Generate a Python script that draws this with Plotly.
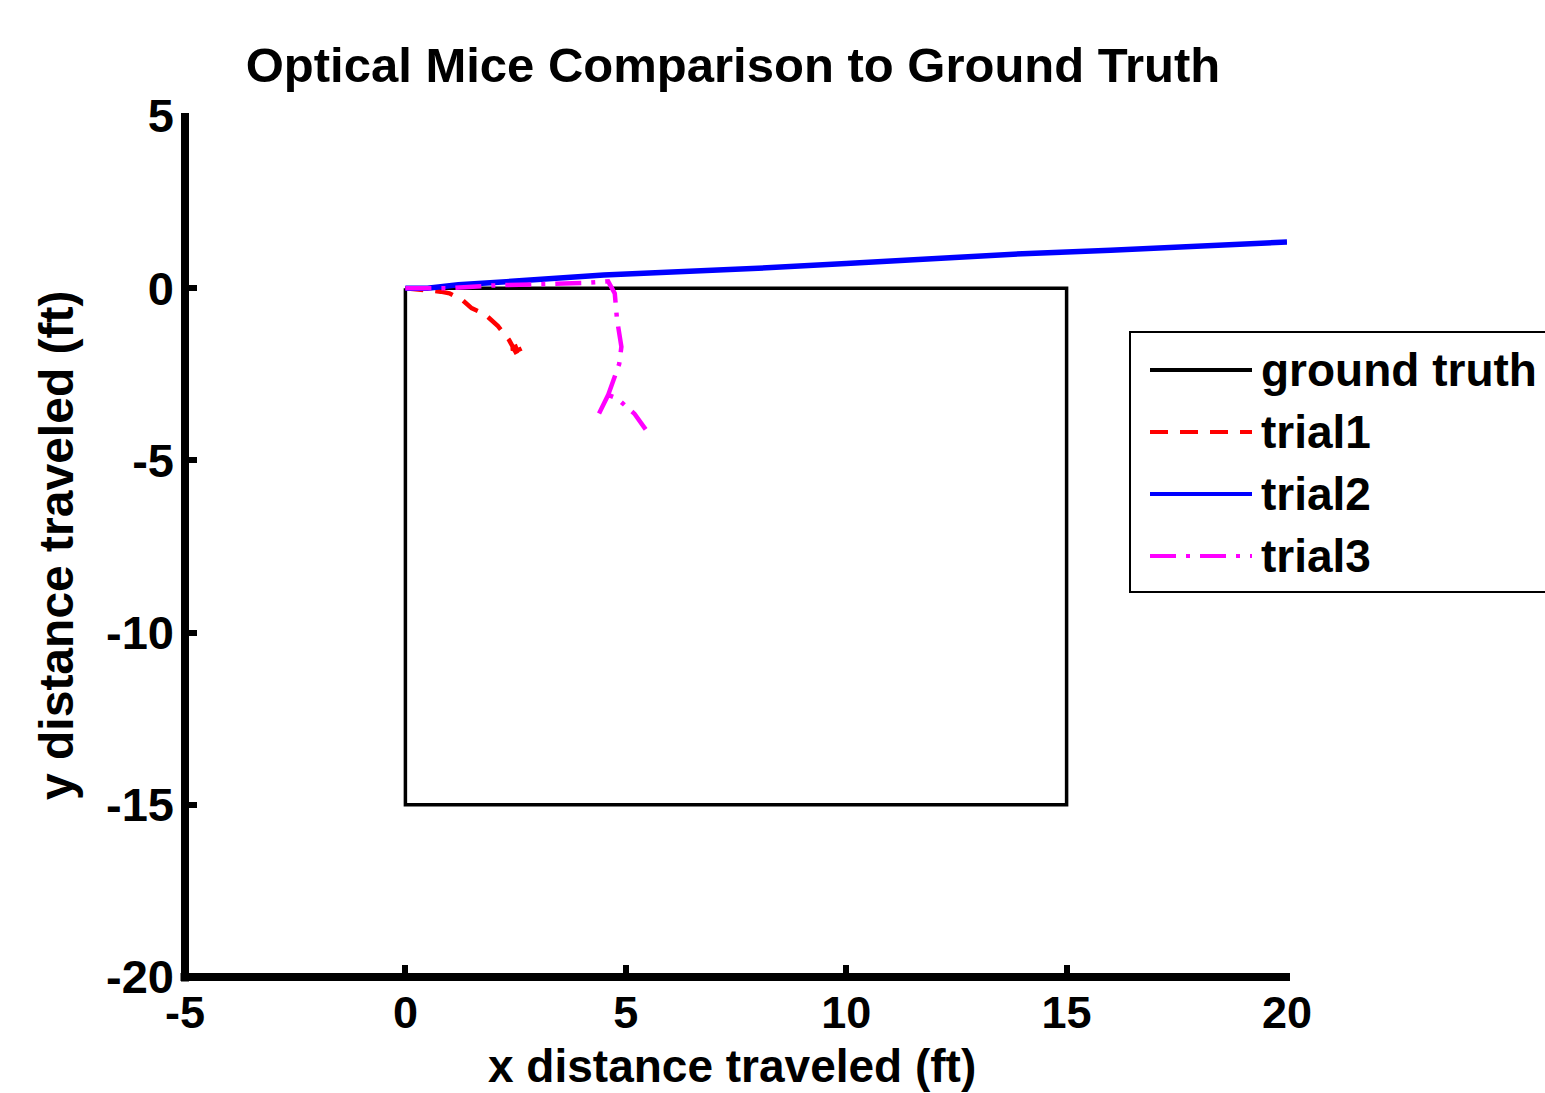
import plotly.graph_objects as go

# ---- data ----
gt_x = [0, 15, 15, 0, 0]
gt_y = [0, 0, -15, -15, 0]

trial1_x = [0, 0.5, 0.8, 1.0, 1.3, 1.5, 1.8, 2.1, 2.35, 2.5, 2.72, 2.55, 2.4, 2.65]
trial1_y = [0, -0.05, -0.1, -0.15, -0.35, -0.58, -0.75, -1.1, -1.5, -1.85, -1.7, -1.8, -1.75, -1.62]

trial2_x = [0, 0.5, 1.2, 2.0, 3.0, 4.5, 6.0, 8.0, 10.0, 12.0, 14.0, 16.0, 18.0, 20.0]
trial2_y = [0, 0.0, 0.1, 0.15, 0.25, 0.38, 0.45, 0.58, 0.72, 0.86, 1.0, 1.1, 1.22, 1.34]

trial3_x = [0, 1.0, 2.0, 3.0, 4.0, 4.6, 4.75, 4.8, 4.9, 4.85, 4.72, 4.6, 4.35, 4.6, 4.8, 5.2, 5.45]
trial3_y = [0, 0.0, 0.08, 0.1, 0.15, 0.2, -0.15, -0.9, -1.7, -2.2, -2.65, -3.1, -3.75, -3.1, -3.2, -3.65, -4.1]

x_ticks = [-5, 0, 5, 10, 15, 20]
y_ticks = [-20, -15, -10, -5, 0, 5]

series_names = ["ground truth", "trial1", "trial2", "trial3"]
series_colors = ["#000000", "#FF0000", "#0000FF", "#FF00FF"]
series_dash = ["solid", "18px,12px", "solid", "26px,10px,4px,10px"]
series_width = [3.5, 4.5, 5.5, 4.5]

FONT = "Liberation Sans, Arial, sans-serif"

fig = go.Figure()
for xs, ys, nm, col, ds, lw in zip([gt_x, trial1_x, trial2_x, trial3_x],
                                    [gt_y, trial1_y, trial2_y, trial3_y],
                                    series_names, series_colors, series_dash, series_width):
    fig.add_trace(go.Scatter(x=xs, y=ys, mode="lines", name=nm,
                             line=dict(color=col, width=lw, dash=ds)))

L, R, T, B = 185, 258, 116, 116
W, H = 1545, 1093
pw, ph = W - L - R, H - T - B

def px_x(p):
    return (p - L) / pw

def px_y(p):
    return (H - B - p) / ph

shapes = []
# axis lines
shapes.append(dict(type="line", xref="paper", yref="paper",
                   x0=-4.5 / pw, x1=1 + 3 / pw, y0=0, y1=0,
                   line=dict(color="black", width=8)))
shapes.append(dict(type="line", xref="paper", yref="paper",
                   x0=0, x1=0, y0=-4.5 / ph, y1=1 + 3 / ph,
                   line=dict(color="black", width=8)))

# legend box (drawn manually to match the long sample lines)
shapes.append(dict(type="rect", xref="paper", yref="paper",
                   x0=px_x(1130), x1=px_x(1600), y0=px_y(592), y1=px_y(332),
                   line=dict(color="black", width=2), fillcolor="white", layer="above"))
annotations = []
row_px = [370, 432, 494, 556]
for name, col, dash, rp in zip(series_names, series_colors, series_dash, row_px):
    yp = px_y(rp)
    shapes.append(dict(type="line", xref="paper", yref="paper",
                       x0=px_x(1150), x1=px_x(1252), y0=yp, y1=yp,
                       line=dict(color=col, width=4, dash=dash), layer="above"))
    annotations.append(dict(xref="paper", yref="paper", x=px_x(1259), y=yp,
                            xanchor="left", yanchor="middle", text=name, showarrow=False,
                            font=dict(family=FONT, size=46, color="black", weight="bold")))

# axis titles
annotations.append(dict(xref="paper", yref="paper", x=px_x(732), y=px_y(1066),
                        xanchor="center", yanchor="middle", showarrow=False,
                        text="x distance traveled (ft)",
                        font=dict(family=FONT, size=46, color="black", weight="bold")))
annotations.append(dict(xref="paper", yref="paper", x=px_x(56), y=px_y(546),
                        xanchor="center", yanchor="middle", showarrow=False, textangle=-90,
                        text="y distance traveled (ft)",
                        font=dict(family=FONT, size=48, color="black", weight="bold")))

fig.update_layout(
    width=W, height=H,
    margin=dict(l=L, r=R, t=T, b=B),
    paper_bgcolor="white", plot_bgcolor="white",
    showlegend=False,
    font=dict(family=FONT, size=46, color="black", weight="bold"),
    title=dict(text="Optical Mice Comparison to Ground Truth", x=733 / W, xanchor="center",
               y=1 - 65 / H, yanchor="middle",
               font=dict(family=FONT, size=49, color="black", weight="bold")),
    shapes=shapes,
    annotations=annotations,
)
fig.update_xaxes(range=[-5, 20], tickvals=x_ticks, ticktext=[str(v) for v in x_ticks],
                 ticks="inside", ticklen=12, tickwidth=6, tickcolor="black",
                 showgrid=False, zeroline=False, showline=False,
                 ticklabelstandoff=5,
                 tickfont=dict(family=FONT, size=45, weight="bold"),
                 automargin=False)
fig.update_yaxes(range=[-20, 5], tickvals=y_ticks, ticktext=[str(v) for v in y_ticks],
                 ticks="inside", ticklen=12, tickwidth=6, tickcolor="black",
                 showgrid=False, zeroline=False, showline=False,
                 ticklabelstandoff=10,
                 tickfont=dict(family=FONT, size=47, weight="bold"),
                 automargin=False)

fig.write_html("out.html", config={"displayModeBar": False},
               post_script="document.body.style.margin='0';document.body.style.overflow='hidden';")
